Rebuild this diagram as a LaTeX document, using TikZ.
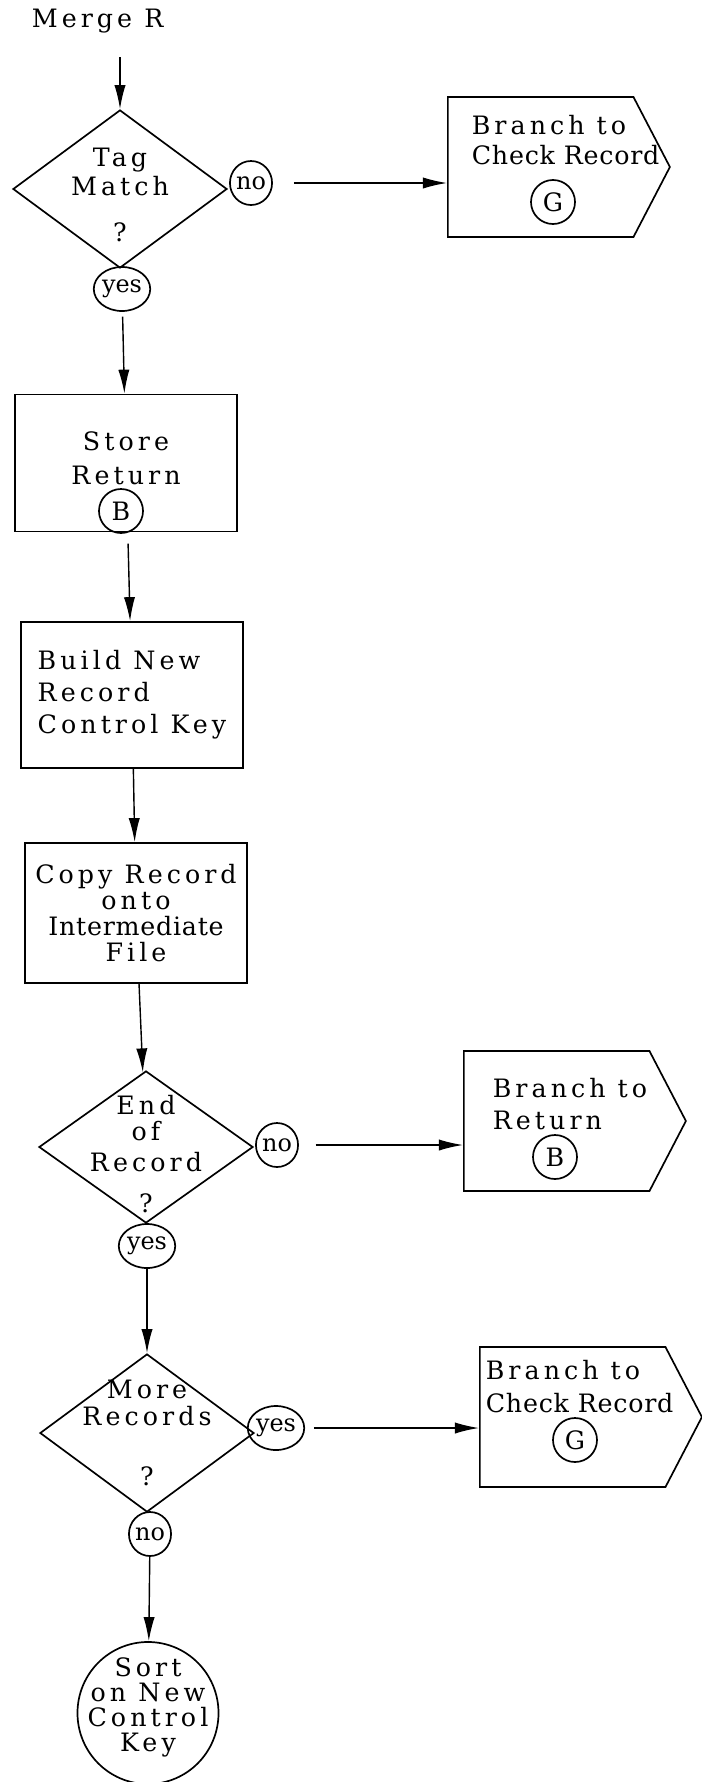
\documentclass[tikz,border=0pt]{standalone}
\usepackage{fontspec}
\usetikzlibrary{shapes.geometric,shapes.symbols,arrows.meta}
\newfontfamily\typed[LetterSpace=16]{DejaVu Serif}
\newfontfamily\typedtight[LetterSpace=3]{DejaVu Serif}
\newfontfamily\answer{DejaVu Serif}
\begin{document}
\begin{tikzpicture}[x=0.025cm, y=-0.025cm, line width=1.2pt,
    txt/.style={font=\fontsize{18}{21}\typed, inner sep=0pt},
    proc/.style={draw, rectangle, txt, minimum width=5.55cm, align=center},
    decision/.style={draw, diamond, minimum width=5.35cm, minimum height=3.95cm, inner sep=0pt},
    branch/.style={draw, signal, signal to=east, signal pointer angle=125, minimum width=5.55cm, minimum height=3.5cm, inner sep=0pt, anchor=west},
    ans/.style={draw, ellipse, minimum width=1cm, minimum height=1.1cm, inner sep=0pt, font=\fontsize{17}{20}\answer},
    ref/.style={draw, circle, minimum size=1.1cm, inner sep=0pt, txt},
    flow/.style={line width=1pt, -{Latex[length=0.6cm, width=0.28cm]}}]
  \useasboundingbox (0,0) rectangle (702,1782);
  \node[txt, anchor=west] (merge) at (31,21) {Merge R};
  \coordinate (in1) at (120,57);
  \node[decision, label={[txt, align=center, yshift=-0.15cm]center:{Tag\\Match\\[11.7pt]?}}] (d1) at (120,189) {};
  \node[ans] (no1) at (251,183) {no}; \node[ans] (yes1) at (122,289) {yes};
  \node[branch] (br1) at (447,167) {};
  \node[txt, align=left, anchor=west] (br1t) at (471,140) {Branch to\\{\typedtight Check Record}};
  \node[ref] (g1) at (553,202) {G};
  \node[proc, minimum height=3.425cm, label={[txt, align=center, yshift=0.125cm]center:{Store\\[3.2pt]Return}}] (store) at (126,463) {};
  \node[ref] (b1) at (121,511) {B};
  \node[proc, minimum height=3.65cm, align=left] (build) at (132,695) {Build New\\[1.8pt]Record\\[1.8pt]Control Key};
  \node[proc, minimum height=3.5cm] (copy) at (136,913) {Copy Record\\[-2.5pt]onto\\[-2.5pt]{\typedtight Intermediate}\\[-2.5pt]File};
  \node[decision, minimum height=3.8cm, label={[txt, align=center, yshift=-0.175cm]center:{End\\[-2.5pt]of\\[1pt]Record\\[8.2pt]?}}] (d2) at (146,1147) {};
  \node[ans] (no2) at (277,1145) {no}; \node[ans] (yes2) at (147,1246) {yes};
  \node[branch] (br2) at (463,1121) {};
  \node[txt, align=left, anchor=west] (br2t) at (492,1104) {Branch to\\[1.8pt]Return};
  \node[ref] (b2) at (555,1157) {B};
  \node[decision, label={[txt, align=center]center:{More\\[-1.8pt]Records\\[21.7pt]?}}] (d3) at (147,1433) {};
  \node[ans] (yes3) at (276,1428) {yes}; \node[ans] (no3) at (150,1534) {no};
  \node[branch] (br3) at (479,1417) {};
  \node[txt, align=left, anchor=west] (br3t) at (485,1387) {Branch to\\[2.5pt]{\typedtight Check Record}};
  \node[ref] (g3) at (575,1440) {G};
  \node[draw, ellipse, minimum width=3.525cm, minimum height=3.55cm, label={[txt, align=center, yshift=0.15cm]center:{Sort\\[-3.2pt]on New\\[-3.2pt]Control\\[-3.2pt]Key}}] (sort) at (148,1713) {};
  \draw[flow] (in1) -- (d1.north);
  \draw[flow, shorten <=0.525cm] (no1.east) -- (no1.east -| br1.west);
  \draw[flow, shorten <=0.12cm] (yes1) -- (store);
  \draw[flow, shorten <=0.28cm] (store) -- (build);
  \draw[flow] (build) -- (copy);
  \draw[flow] (copy) -- (d2);
  \draw[flow, shorten <=0.42cm] (no2.east) -- (no2.east -| br2.west);
  \draw[flow] (yes2) -- (d3);
  \draw[flow, shorten <=0.22cm] (yes3.east) -- (yes3.east -| br3.west);
  \draw[flow] (no3) -- (sort);
\end{tikzpicture}
\end{document}
